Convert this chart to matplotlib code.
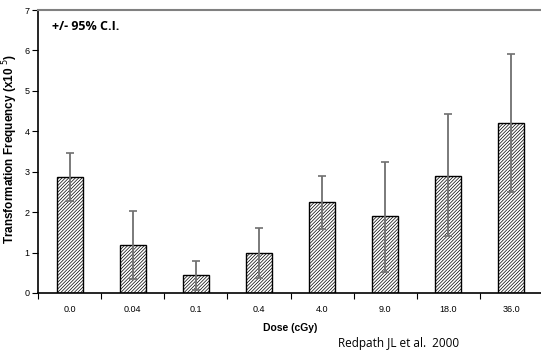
import matplotlib
matplotlib.use("Agg")
import matplotlib.pyplot as plt
import numpy as np

categories = ["0.0", "0.04", "0.1", "0.4", "4.0", "9.0", "18.0", "36.0"]
values = [2.88, 1.19, 0.44, 1.00, 2.25, 1.90, 2.90, 4.20]
ci_upper = [3.47, 2.04, 0.80, 1.62, 2.90, 3.23, 4.43, 5.91]
ci_lower = [2.28, 0.35, 0.07, 0.37, 1.58, 0.53, 1.40, 2.50]

plt.rcParams['hatch.color'] = '#505050'
plt.rcParams['hatch.linewidth'] = 0.5

fig = plt.figure(figsize=(5.41, 3.52), dpi=100)
left = 38 / 541
bottom = 1 - 293 / 352
top = 1 - 10 / 352
width = (543 - 38) / 541
ax = fig.add_axes([left, bottom, width, top - bottom])

x = np.arange(len(categories))
v = np.array(values)
err = np.array([v - np.array(ci_lower), np.array(ci_upper) - v])
ax.bar(x, v, width=0.41, color='white', edgecolor='black', linewidth=1.0,
       hatch='//////////', zorder=2)
ax.errorbar(x, v, yerr=err, fmt='none', ecolor='#707070', elinewidth=1.3,
            capsize=3, capthick=1.2, zorder=3)

ax.set_xlim(-0.5, len(categories) - 0.5)
ax.set_ylim(0, 7)
ax.set_yticks(range(8))
ax.set_yticklabels([str(i) for i in range(8)], fontsize=6.5, family='Liberation Sans')
ax.set_xticks(x)
ax.set_xticklabels(categories, fontsize=6.5, family='Liberation Sans')
ax.set_xticks(np.arange(-0.5, len(categories), 1), minor=True)
ax.tick_params(axis='x', which='major', length=0, pad=9)
ax.tick_params(axis='x', which='minor', length=4, width=0.8, direction='out')
ax.tick_params(axis='y', length=4, width=0.8, direction='out', pad=2)

ax.spines['right'].set_visible(False)
ax.spines['top'].set_color('#808080')
ax.spines['top'].set_linewidth(1.5)
ax.spines['left'].set_linewidth(1.2)
ax.spines['bottom'].set_linewidth(1.2)

ax.set_xlabel("Dose (cGy)", fontsize=7.5, fontweight='bold', family='Liberation Sans', labelpad=6)
ax.set_ylabel("Transformation Frequency (x10 $^{5}$)", fontsize=8.5, fontweight='bold',
              family='Liberation Sans')
ax.yaxis.set_label_coords((20 - 38) / 505, (293 - 149) / 283)

fig.text(52 / 541, 1 - 27 / 352, "+/- 95% C.I.", fontsize=9, fontweight='bold',
         family='Open Sans', va='center', ha='left')
fig.text(338 / 541, 1 - 343 / 352, "Redpath JL et al.  2000", fontsize=8.5,
         family='Open Sans', va='center', ha='left')

fig.savefig("out.png", dpi=100)
